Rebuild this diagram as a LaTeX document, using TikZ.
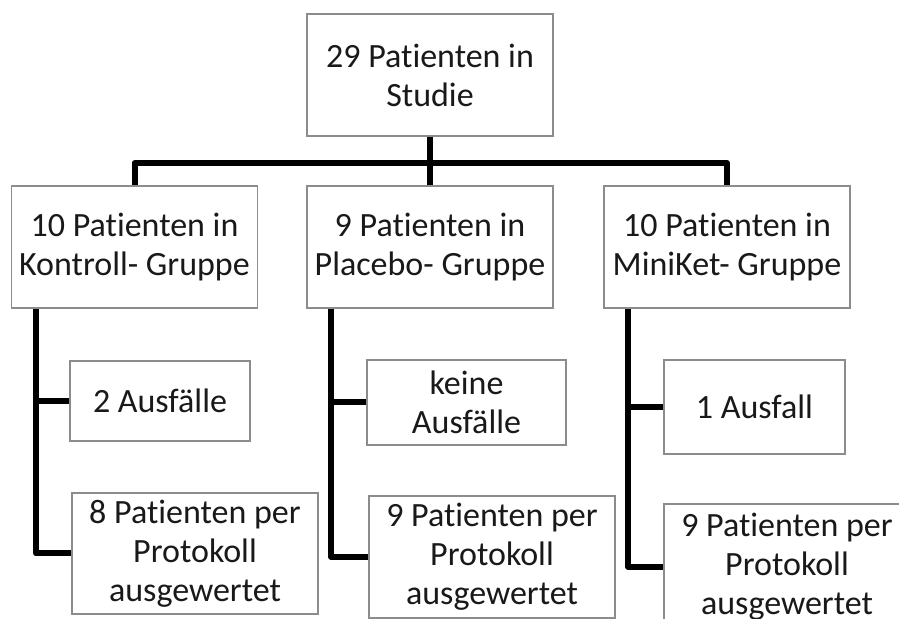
\documentclass[tikz,border=0pt]{standalone}
\usepackage{fontspec}
\setmainfont{Carlito}[Ligatures=NoCommon]
\definecolor{mgray}{rgb}{0.55, 0.55, 0.55}
\definecolor{mtext}{rgb}{0.1, 0.1, 0.1}
\tikzset{box/.style = {draw=mgray, line width=0.7pt, fill=white, text=mtext,
                       align=center, inner sep=0pt,
                       font=\fontsize{17}{19.5}\selectfont},
         tree/.style = {line width=3pt, line join=round}}

\begin{document}
\begin{tikzpicture}[x=0.5pt, y=-0.5pt]
    \useasboundingbox (0, 0) rectangle (899, 619);

    \node [box, minimum width=123pt, minimum height=61pt] (studie) at (430, 75) {29 Patienten in\\Studie};

    \node [box, minimum width=123pt, minimum height=61pt] (kontroll) at (134.5, 247) {10 Patienten in\\Kontroll- Gruppe};
    \node [box, minimum width=123pt, minimum height=61pt] (placebo) at (430, 247) {9 Patienten in\\Placebo- Gruppe};
    \node [box, minimum width=123pt, minimum height=61pt] (miniket) at (727, 247) {10 Patienten in\\MiniKet- Gruppe};

    \node [box, minimum width=90pt, minimum height=40pt] (kausf) at (160, 401) {2 Ausfälle};
    \node [box, minimum width=99.5pt, minimum height=42.5pt] (pausf) at (466.5, 402.5) {keine\\Ausfälle};
    \node [box, minimum width=90.5pt, minimum height=47pt] (mausf) at (754.5, 407) {1 Ausfall};

    \node [box, minimum width=123pt, minimum height=60.5pt] (kprot) at (195, 553.5) {8 Patienten per\\Protokoll\\ausgewertet};
    \node [box, minimum width=123pt, minimum height=61pt] (pprot) at (492, 557) {9 Patienten per\\Protokoll\\ausgewertet};
    \node [box, minimum width=123pt, minimum height=63pt] (mprot) at (787, 567) {9 Patienten per\\Protokoll\\ausgewertet};

    \coordinate (bar) at (430, 163);
    \draw [tree] (studie.south) -- (studie.south |- bar);
    \draw [tree] (kontroll.north) -- (kontroll.north |- bar) -| (miniket.north);
    \draw [tree] (placebo.north) -- (placebo.north |- bar);

    \foreach \grp/\g in {kontroll/k, placebo/p, miniket/m} {
        \coordinate (\g trunk) at ([xshift=12.5pt]\grp.south west);
        \draw [tree] (\g trunk) |- (\g prot.west);
        \draw [tree] (\g ausf.west) -- (\g ausf.west -| \g trunk);
    }
\end{tikzpicture}
\end{document}
